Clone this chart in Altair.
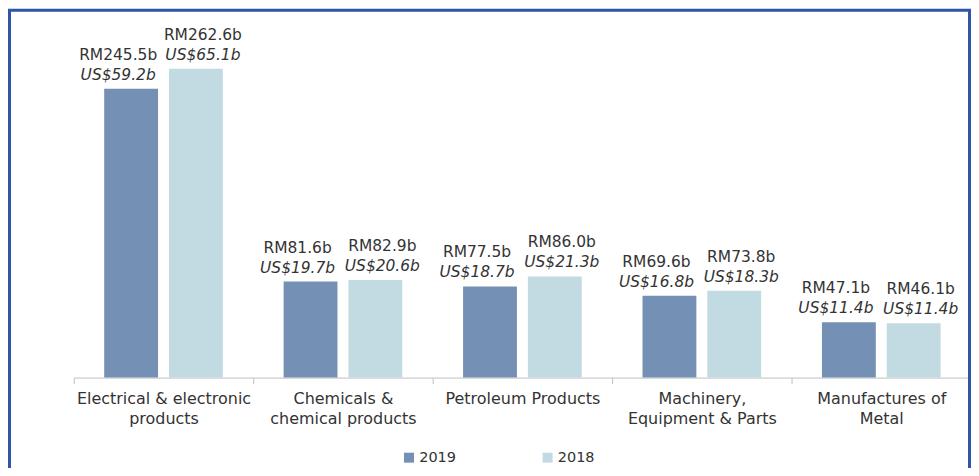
import altair as alt
import pandas as pd

categories = [
    "Electrical & electronic\nproducts",
    "Chemicals &\nchemical products",
    "Petroleum Products",
    "Machinery,\nEquipment & Parts",
    "Manufactures of\nMetal",
]
series = ["2019", "2018"]
rm_2019 = [245.5, 81.6, 77.5, 69.6, 47.1]
rm_2018 = [262.6, 82.9, 86.0, 73.8, 46.1]
usd_2019 = [59.2, 19.7, 18.7, 16.8, 11.4]
usd_2018 = [65.1, 20.6, 21.3, 18.3, 11.4]
colors = ["#7490b4", "#c2dbe2"]

rows = []
for s, rms, usds in [("2019", rm_2019, usd_2019), ("2018", rm_2018, usd_2018)]:
    for c, r, u in zip(categories, rms, usds):
        rows.append({"category": c, "series": s, "rm": r,
                     "rm_label": f"RM{r:.1f}b", "usd_label": f"US${u:.1f}b"})
df = pd.DataFrame(rows)

FONT = "DejaVu Sans"
TXT = "#333333"

x_enc = alt.X("category:N", sort=categories, title=None,
              scale=alt.Scale(paddingInner=0, paddingOuter=0),
              axis=alt.Axis(labelAngle=0,
                            labelExpr="isValid(datum.value) ? split(datum.value, '\\n') : ''",
                            labelFont=FONT, labelFontSize=16, labelColor=TXT,
                            labelLineHeight=20, labelPadding=7, labelBaseline="top",
                            domainColor="#bfbfbf", tickColor="#bfbfbf", tickSize=6,
                            tickBand="extent", labelLimit=300))
xo_enc = alt.XOffset("series:N", sort=series,
                     scale=alt.Scale(paddingInner=0.169, paddingOuter=0.469))
y_enc = alt.Y("rm:Q", scale=alt.Scale(domain=[0, 300]), axis=None)

base = alt.Chart(df)

bars = base.mark_bar().encode(
    x=x_enc, xOffset=xo_enc, y=y_enc,
    color=alt.Color("series:N", sort=series,
                    scale=alt.Scale(domain=series, range=colors),
                    legend=alt.Legend(orient="none", legendX=329, legendY=427,
                                      direction="horizontal", title=None,
                                      symbolType="square", symbolSize=100,
                                      symbolStrokeWidth=0, labelFont=FONT,
                                      labelFontSize=14.5, labelColor=TXT,
                                      labelOffset=3, columnPadding=84, padding=0)),
)

layers = [bars]
dxs = {"2019": -13, "2018": 7}
for s in series:
    sub = base.transform_filter(alt.datum.series == s)
    layers.append(sub.mark_text(font=FONT, fontSize=15.5, color=TXT, dx=dxs[s], dy=-29,
                                baseline="alphabetic").encode(
        x=x_enc, xOffset=xo_enc, y=y_enc, text="rm_label:N"))
    layers.append(sub.mark_text(font=FONT, fontSize=15.5, color=TXT, dx=dxs[s], dy=-9,
                                baseline="alphabetic", fontStyle="italic").encode(
        x=x_enc, xOffset=xo_enc, y=y_enc, text="usd_label:N"))

border = alt.Chart(pd.DataFrame({"a": [0]})).mark_rect(
    fill=None, stroke="#2f55a8", strokeWidth=3).encode(
    x=alt.value(-64.5), x2=alt.value(898.5), y=alt.value(-14.5), y2=alt.value(470))
layers.append(border)

chart = alt.layer(*layers).properties(
    width=900, height=354,
    background="white",
    autosize=alt.AutoSizeParams(type="none"),
    padding={"left": 66, "top": 16, "right": 0, "bottom": 90},
).configure_view(stroke=None)

chart.save("out.html", embed_options={"renderer": "svg", "actions": False})
